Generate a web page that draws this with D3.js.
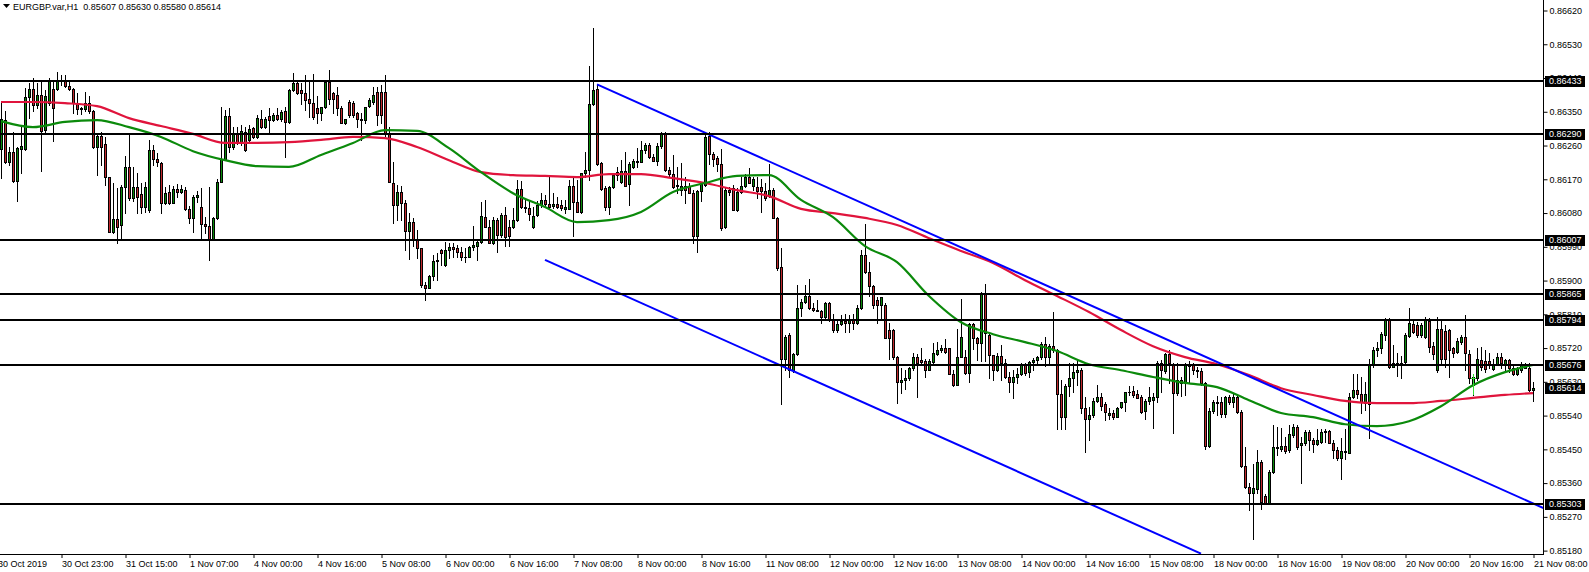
<!DOCTYPE html>
<html><head><meta charset="utf-8">
<script src="https://cdn.jsdelivr.net/npm/d3@7"></script>
<style>
html,body{margin:0;padding:0;background:#fff;overflow:hidden;}
svg{display:block;font-family:"Liberation Sans",Arial,sans-serif;}
</style></head><body>
<svg id="chart" width="1589" height="572"></svg>
<script>
const symbolTitle = "EURGBP.var,H1";
const headerValues = ["0.85607", "0.85630", "0.85580", "0.85614"];

// [open, high, low, close], one per H1 bar, oldest first
const bars = [
[0.86252,0.86373,0.86173,0.86330],[0.86328,0.86351,0.86213,0.86215],[0.86215,0.86257,0.86208,0.86244],[0.86244,0.86297,0.86164,0.86166],
[0.86166,0.86257,0.86113,0.86253],[0.86252,0.86311,0.86188,0.86258],[0.86252,0.86413,0.86248,0.86389],[0.86389,0.86426,0.86333,0.86410],
[0.86410,0.86439,0.86351,0.86368],[0.86368,0.86426,0.86360,0.86395],[0.86395,0.86431,0.86191,0.86300],[0.86302,0.86408,0.86297,0.86391],
[0.86373,0.86441,0.86368,0.86432],[0.86410,0.86435,0.86273,0.86359],[0.86410,0.86455,0.86408,0.86431],[0.86431,0.86448,0.86422,0.86435],
[0.86432,0.86448,0.86417,0.86419],[0.86419,0.86435,0.86408,0.86410],[0.86410,0.86413,0.86346,0.86373],[0.86373,0.86399,0.86344,0.86357],
[0.86357,0.86364,0.86344,0.86359],[0.86357,0.86404,0.86353,0.86373],[0.86373,0.86391,0.86346,0.86351],[0.86351,0.86355,0.86253,0.86255],
[0.86255,0.86288,0.86182,0.86286],[0.86286,0.86297,0.86208,0.86257],[0.86263,0.86284,0.86155,0.86175],[0.86175,0.86177,0.86030,0.86030],
[0.86030,0.86159,0.86028,0.86063],[0.86063,0.86146,0.86001,0.86044],[0.86047,0.86155,0.86010,0.86150],[0.86149,0.86232,0.86079,0.86202],
[0.86202,0.86288,0.86115,0.86119],[0.86119,0.86204,0.86111,0.86150],[0.86150,0.86186,0.86079,0.86124],[0.86131,0.86159,0.86081,0.86095],
[0.86097,0.86164,0.86084,0.86150],[0.86087,0.86275,0.86084,0.86248],[0.86248,0.86262,0.86208,0.86223],[0.86223,0.86239,0.86206,0.86215],
[0.86213,0.86217,0.86081,0.86108],[0.86106,0.86150,0.86104,0.86133],[0.86135,0.86155,0.86104,0.86108],[0.86108,0.86152,0.86106,0.86143],
[0.86143,0.86158,0.86124,0.86135],[0.86135,0.86155,0.86133,0.86143],[0.86142,0.86150,0.86088,0.86090],[0.86090,0.86099,0.86053,0.86068],
[0.86066,0.86128,0.86030,0.86123],[0.86123,0.86140,0.86110,0.86128],[0.86097,0.86148,0.86012,0.86052],[0.86052,0.86070,0.86026,0.86046],
[0.86046,0.86150,0.85955,0.86010],[0.86010,0.86070,0.86008,0.86066],[0.86066,0.86172,0.86063,0.86164],[0.86164,0.86364,0.86164,0.86223],
[0.86223,0.86355,0.86221,0.86339],[0.86339,0.86359,0.86244,0.86257],[0.86257,0.86310,0.86250,0.86294],[0.86294,0.86310,0.86264,0.86270],
[0.86266,0.86315,0.86262,0.86300],[0.86297,0.86310,0.86246,0.86248],[0.86275,0.86315,0.86270,0.86303],[0.86306,0.86310,0.86280,0.86282],
[0.86282,0.86341,0.86279,0.86334],[0.86332,0.86355,0.86306,0.86310],[0.86310,0.86337,0.86306,0.86332],[0.86339,0.86359,0.86297,0.86328],
[0.86328,0.86346,0.86326,0.86341],[0.86341,0.86359,0.86328,0.86332],[0.86330,0.86355,0.86326,0.86350],[0.86352,0.86364,0.86230,0.86324],
[0.86324,0.86412,0.86319,0.86408],[0.86408,0.86454,0.86406,0.86426],[0.86426,0.86430,0.86397,0.86399],[0.86408,0.86426,0.86372,0.86399],
[0.86399,0.86448,0.86355,0.86381],[0.86383,0.86430,0.86337,0.86374],[0.86374,0.86452,0.86330,0.86335],[0.86359,0.86392,0.86320,0.86346],
[0.86346,0.86364,0.86328,0.86362],[0.86362,0.86435,0.86359,0.86430],[0.86430,0.86461,0.86372,0.86383],[0.86399,0.86404,0.86346,0.86383],
[0.86395,0.86417,0.86341,0.86359],[0.86359,0.86365,0.86320,0.86321],[0.86321,0.86332,0.86317,0.86330],[0.86377,0.86381,0.86337,0.86341],
[0.86374,0.86379,0.86337,0.86341],[0.86346,0.86350,0.86310,0.86332],[0.86332,0.86346,0.86275,0.86328],[0.86328,0.86364,0.86319,0.86362],
[0.86365,0.86386,0.86362,0.86381],[0.86377,0.86417,0.86372,0.86395],[0.86404,0.86417,0.86315,0.86341],[0.86404,0.86421,0.86319,0.86341],
[0.86402,0.86448,0.86285,0.86292],[0.86292,0.86310,0.86164,0.86164],[0.86159,0.86217,0.86053,0.86102],[0.86102,0.86155,0.86062,0.86137],
[0.86137,0.86151,0.86062,0.86108],[0.86108,0.86115,0.85982,0.86033],[0.86033,0.86079,0.85957,0.86057],[0.86057,0.86066,0.85991,0.86008],
[0.86008,0.86035,0.85959,0.85986],[0.85986,0.85988,0.85884,0.85888],[0.85888,0.85895,0.85848,0.85880],[0.85880,0.85915,0.85879,0.85911],
[0.85911,0.85968,0.85902,0.85953],[0.85953,0.85973,0.85902,0.85955],[0.85982,0.85984,0.85942,0.85973],[0.85942,0.86004,0.85939,0.85982],
[0.85982,0.86000,0.85960,0.85990],[0.85990,0.85999,0.85962,0.85985],[0.85986,0.85995,0.85962,0.85975],[0.85975,0.85990,0.85955,0.85964],
[0.85964,0.85986,0.85950,0.85962],[0.85962,0.85993,0.85962,0.85990],[0.85990,0.86046,0.85982,0.85996],[0.85992,0.86008,0.85955,0.86004],
[0.86004,0.86110,0.86000,0.86071],[0.86069,0.86115,0.86044,0.86044],[0.86044,0.86062,0.86000,0.86001],[0.86001,0.86070,0.85998,0.86062],
[0.86062,0.86066,0.85975,0.86022],[0.86022,0.86079,0.86017,0.86075],[0.86075,0.86097,0.85992,0.86017],[0.86044,0.86062,0.85992,0.86019],
[0.86044,0.86093,0.86040,0.86062],[0.86062,0.86168,0.86058,0.86143],[0.86143,0.86166,0.86093,0.86097],[0.86097,0.86115,0.86084,0.86093],
[0.86093,0.86111,0.86062,0.86077],[0.86042,0.86097,0.86040,0.86072],[0.86075,0.86111,0.86071,0.86102],[0.86102,0.86133,0.86097,0.86115],
[0.86115,0.86128,0.86097,0.86104],[0.86104,0.86177,0.86093,0.86095],[0.86099,0.86133,0.86093,0.86104],[0.86104,0.86124,0.86093,0.86097],
[0.86102,0.86115,0.86088,0.86093],[0.86090,0.86115,0.86079,0.86095],[0.86092,0.86168,0.86090,0.86152],[0.86152,0.86173,0.86019,0.86110],
[0.86110,0.86168,0.86084,0.86084],[0.86084,0.86186,0.86079,0.86186],[0.86186,0.86244,0.86177,0.86195],[0.86195,0.86471,0.86168,0.86370],
[0.86370,0.86573,0.86368,0.86408],[0.86410,0.86422,0.86208,0.86211],[0.86213,0.86217,0.86141,0.86143],[0.86146,0.86151,0.86088,0.86095],
[0.86095,0.86152,0.86077,0.86150],[0.86150,0.86182,0.86146,0.86182],[0.86182,0.86204,0.86168,0.86190],[0.86164,0.86222,0.86160,0.86191],
[0.86191,0.86242,0.86151,0.86151],[0.86158,0.86217,0.86102,0.86211],[0.86204,0.86224,0.86200,0.86220],[0.86220,0.86253,0.86204,0.86217],
[0.86217,0.86271,0.86215,0.86247],[0.86247,0.86266,0.86241,0.86262],[0.86262,0.86266,0.86226,0.86229],[0.86229,0.86238,0.86218,0.86220],
[0.86220,0.86268,0.86208,0.86259],[0.86259,0.86297,0.86253,0.86291],[0.86291,0.86297,0.86191,0.86195],[0.86195,0.86204,0.86177,0.86184],
[0.86184,0.86235,0.86148,0.86150],[0.86155,0.86204,0.86133,0.86151],[0.86142,0.86213,0.86128,0.86151],[0.86151,0.86177,0.86106,0.86142],
[0.86151,0.86159,0.86133,0.86133],[0.86133,0.86142,0.86000,0.86019],[0.86019,0.86142,0.85977,0.86140],[0.86140,0.86164,0.86111,0.86158],
[0.86155,0.86297,0.86151,0.86284],[0.86286,0.86295,0.86211,0.86238],[0.86238,0.86244,0.86206,0.86224],[0.86226,0.86232,0.86191,0.86211],
[0.86211,0.86250,0.86035,0.86040],[0.86044,0.86146,0.86040,0.86142],[0.86142,0.86150,0.86128,0.86135],[0.86146,0.86155,0.86088,0.86088],
[0.86088,0.86146,0.86086,0.86137],[0.86135,0.86177,0.86133,0.86152],[0.86151,0.86184,0.86149,0.86177],[0.86177,0.86199,0.86159,0.86159],
[0.86151,0.86177,0.86142,0.86170],[0.86150,0.86177,0.86119,0.86140],[0.86150,0.86170,0.86082,0.86140],[0.86140,0.86159,0.86115,0.86120],
[0.86128,0.86211,0.86124,0.86142],[0.86142,0.86146,0.86066,0.86066],[0.86066,0.86070,0.85929,0.85933],[0.85937,0.85986,0.85572,0.85692],
[0.85692,0.85754,0.85661,0.85750],[0.85755,0.85759,0.85643,0.85661],[0.85661,0.85706,0.85657,0.85703],[0.85703,0.85888,0.85702,0.85828],
[0.85828,0.85852,0.85805,0.85844],[0.85844,0.85888,0.85839,0.85859],[0.85859,0.85903,0.85823,0.85826],[0.85826,0.85841,0.85819,0.85821],
[0.85821,0.85848,0.85819,0.85820],[0.85820,0.85821,0.85786,0.85803],[0.85803,0.85844,0.85799,0.85841],[0.85841,0.85844,0.85793,0.85796],
[0.85796,0.85812,0.85763,0.85768],[0.85768,0.85795,0.85763,0.85784],[0.85784,0.85808,0.85781,0.85793],[0.85793,0.85812,0.85763,0.85788],
[0.85788,0.85808,0.85763,0.85795],[0.85795,0.85810,0.85772,0.85786],[0.85786,0.85835,0.85784,0.85826],[0.85826,0.85981,0.85823,0.85968],
[0.85968,0.86051,0.85921,0.85923],[0.85923,0.85950,0.85859,0.85885],[0.85885,0.85888,0.85826,0.85835],[0.85848,0.85857,0.85788,0.85835],
[0.85835,0.85857,0.85795,0.85855],[0.85835,0.85839,0.85746,0.85748],[0.85768,0.85786,0.85692,0.85748],[0.85768,0.85772,0.85692,0.85697],
[0.85697,0.85700,0.85574,0.85630],[0.85630,0.85666,0.85599,0.85636],[0.85636,0.85661,0.85610,0.85639],[0.85639,0.85670,0.85635,0.85668],
[0.85668,0.85706,0.85661,0.85695],[0.85695,0.85704,0.85590,0.85681],[0.85688,0.85719,0.85679,0.85683],[0.85686,0.85690,0.85643,0.85661],
[0.85661,0.85692,0.85661,0.85686],[0.85683,0.85734,0.85679,0.85707],[0.85704,0.85737,0.85701,0.85715],[0.85715,0.85728,0.85710,0.85719],
[0.85719,0.85743,0.85706,0.85710],[0.85719,0.85719,0.85652,0.85652],[0.85652,0.85661,0.85619,0.85621],[0.85621,0.85770,0.85621,0.85697],
[0.85697,0.85852,0.85695,0.85750],[0.85697,0.85715,0.85652,0.85654],[0.85654,0.85786,0.85630,0.85784],[0.85784,0.85788,0.85717,0.85746],
[0.85746,0.85750,0.85688,0.85734],[0.85734,0.85870,0.85686,0.85867],[0.85867,0.85891,0.85686,0.85761],[0.85755,0.85759,0.85639,0.85701],
[0.85701,0.85701,0.85636,0.85661],[0.85661,0.85706,0.85659,0.85699],[0.85699,0.85728,0.85636,0.85679],[0.85681,0.85692,0.85639,0.85642],
[0.85642,0.85657,0.85603,0.85630],[0.85630,0.85661,0.85586,0.85644],[0.85644,0.85666,0.85626,0.85651],[0.85651,0.85679,0.85648,0.85677],
[0.85677,0.85681,0.85648,0.85654],[0.85657,0.85686,0.85644,0.85683],[0.85683,0.85694,0.85661,0.85688],[0.85688,0.85699,0.85681,0.85695],
[0.85695,0.85737,0.85692,0.85731],[0.85731,0.85750,0.85672,0.85697],[0.85697,0.85730,0.85679,0.85725],[0.85725,0.85817,0.85710,0.85715],
[0.85715,0.85717,0.85503,0.85597],[0.85597,0.85636,0.85503,0.85537],[0.85537,0.85625,0.85503,0.85619],[0.85619,0.85681,0.85592,0.85639],
[0.85639,0.85679,0.85603,0.85655],[0.85655,0.85686,0.85621,0.85661],[0.85661,0.85666,0.85546,0.85559],[0.85559,0.85590,0.85443,0.85530],
[0.85530,0.85563,0.85475,0.85541],[0.85541,0.85588,0.85537,0.85579],[0.85579,0.85621,0.85577,0.85590],[0.85590,0.85599,0.85555,0.85565],
[0.85570,0.85576,0.85528,0.85550],[0.85541,0.85561,0.85532,0.85547],[0.85547,0.85555,0.85530,0.85537],[0.85537,0.85562,0.85535,0.85559],
[0.85562,0.85577,0.85560,0.85575],[0.85575,0.85604,0.85553,0.85602],[0.85602,0.85618,0.85594,0.85603],[0.85606,0.85618,0.85590,0.85595],
[0.85597,0.85608,0.85586,0.85588],[0.85590,0.85594,0.85547,0.85550],[0.85553,0.85583,0.85532,0.85579],[0.85579,0.85615,0.85572,0.85590],
[0.85581,0.85601,0.85506,0.85590],[0.85590,0.85686,0.85577,0.85679],[0.85679,0.85688,0.85603,0.85661],[0.85659,0.85706,0.85654,0.85704],
[0.85704,0.85715,0.85626,0.85679],[0.85675,0.85681,0.85494,0.85601],[0.85601,0.85681,0.85595,0.85636],[0.85636,0.85644,0.85592,0.85626],
[0.85626,0.85679,0.85595,0.85675],[0.85671,0.85685,0.85626,0.85675],[0.85675,0.85679,0.85652,0.85661],[0.85661,0.85670,0.85644,0.85660],
[0.85660,0.85666,0.85621,0.85626],[0.85626,0.85630,0.85452,0.85459],[0.85459,0.85560,0.85455,0.85552],[0.85553,0.85581,0.85546,0.85577],
[0.85577,0.85591,0.85542,0.85574],[0.85577,0.85589,0.85537,0.85544],[0.85544,0.85592,0.85537,0.85590],[0.85590,0.85595,0.85572,0.85577],
[0.85577,0.85599,0.85564,0.85590],[0.85590,0.85595,0.85546,0.85550],[0.85550,0.85555,0.85403,0.85405],[0.85405,0.85457,0.85346,0.85350],
[0.85350,0.85359,0.85288,0.85334],[0.85334,0.85412,0.85212,0.85346],[0.85343,0.85448,0.85334,0.85417],[0.85417,0.85421,0.85290,0.85310],
[0.85325,0.85332,0.85305,0.85307],[0.85307,0.85395,0.85305,0.85390],[0.85390,0.85515,0.85386,0.85457],[0.85457,0.85510,0.85435,0.85453],
[0.85452,0.85506,0.85445,0.85459],[0.85459,0.85483,0.85439,0.85446],[0.85448,0.85515,0.85443,0.85492],[0.85488,0.85517,0.85483,0.85510],
[0.85510,0.85515,0.85452,0.85455],[0.85462,0.85483,0.85359,0.85468],[0.85466,0.85501,0.85462,0.85497],[0.85497,0.85501,0.85448,0.85475],
[0.85475,0.85479,0.85443,0.85464],[0.85464,0.85503,0.85461,0.85475],[0.85470,0.85503,0.85466,0.85497],[0.85497,0.85503,0.85470,0.85500],
[0.85500,0.85501,0.85466,0.85468],[0.85468,0.85475,0.85426,0.85448],[0.85448,0.85457,0.85421,0.85428],[0.85428,0.85479,0.85372,0.85445],
[0.85445,0.85503,0.85423,0.85442],[0.85441,0.85599,0.85439,0.85590],[0.85590,0.85652,0.85586,0.85608],[0.85608,0.85652,0.85586,0.85597],
[0.85597,0.85644,0.85546,0.85577],[0.85574,0.85630,0.85555,0.85597],[0.85572,0.85690,0.85479,0.85675],[0.85675,0.85724,0.85670,0.85716],
[0.85716,0.85735,0.85700,0.85720],[0.85720,0.85764,0.85706,0.85757],[0.85755,0.85799,0.85741,0.85796],[0.85796,0.85799,0.85668,0.85670],
[0.85670,0.85728,0.85670,0.85679],[0.85675,0.85706,0.85645,0.85681],[0.85681,0.85700,0.85640,0.85675],[0.85684,0.85759,0.85679,0.85755],
[0.85752,0.85828,0.85750,0.85788],[0.85784,0.85795,0.85759,0.85764],[0.85781,0.85790,0.85750,0.85755],[0.85755,0.85786,0.85750,0.85781],
[0.85750,0.85802,0.85746,0.85795],[0.85793,0.85799,0.85710,0.85722],[0.85725,0.85737,0.85692,0.85704],[0.85661,0.85804,0.85657,0.85772],
[0.85772,0.85795,0.85679,0.85692],[0.85766,0.85781,0.85670,0.85690],[0.85768,0.85772,0.85644,0.85715],[0.85719,0.85724,0.85697,0.85708],
[0.85710,0.85746,0.85706,0.85740],[0.85737,0.85755,0.85732,0.85750],[0.85750,0.85808,0.85661,0.85706],[0.85704,0.85715,0.85626,0.85639],
[0.85621,0.85652,0.85595,0.85644],[0.85639,0.85719,0.85635,0.85690],[0.85688,0.85722,0.85661,0.85670],[0.85686,0.85715,0.85657,0.85663],
[0.85686,0.85706,0.85666,0.85675],[0.85663,0.85692,0.85661,0.85677],[0.85677,0.85708,0.85675,0.85695],[0.85695,0.85706,0.85666,0.85679],
[0.85675,0.85692,0.85661,0.85688],[0.85688,0.85690,0.85657,0.85666],[0.85668,0.85675,0.85648,0.85652],[0.85651,0.85670,0.85648,0.85666],
[0.85661,0.85684,0.85657,0.85675],[0.85668,0.85679,0.85666,0.85672],[0.85668,0.85681,0.85606,0.85608],[0.85607,0.85630,0.85580,0.85614]
];

// time axis: one label every 16 bars (bar index -1 is the first, clipped label)
const tickBars = [-1,15,31,47,63,79,95,111,127,143,159,175,191,207,223,239,255,271,287,303,319,335,351,367,383];
const tickLabels = ["30 Oct 2019","30 Oct 23:00","31 Oct 15:00","1 Nov 07:00","4 Nov 00:00","4 Nov 16:00","5 Nov 08:00",
  "6 Nov 00:00","6 Nov 16:00","7 Nov 08:00","8 Nov 00:00","8 Nov 16:00","11 Nov 08:00","12 Nov 00:00","12 Nov 16:00",
  "13 Nov 08:00","14 Nov 00:00","14 Nov 16:00","15 Nov 08:00","18 Nov 00:00","18 Nov 16:00","19 Nov 08:00",
  "20 Nov 00:00","20 Nov 16:00","21 Nov 08:00"];

const priceTicks = [0.86620,0.86530,0.86440,0.86350,0.86260,0.86170,0.86080,0.85990,0.85900,0.85810,
  0.85720,0.85630,0.85540,0.85450,0.85360,0.85270,0.85180];

const levels = [0.86433,0.86290,0.86007,0.85865,0.85794,0.85676,0.85303];
const lastPrice = 0.85614;

// moving averages sampled along the bars
const maBars = [0,8,16,24,32,40,48,56,64,72,80,88,96,104,112,120,128,136,144,152,160,168,176,184,192,200,
  208,216,224,232,240,248,256,264,272,280,288,296,304,312,320,328,336,344,352,360,368,376,383];
const maRed = [0.86376,0.86376,0.86373,0.86365,0.86333,0.86312,0.86291,0.86267,0.86267,0.86269,0.86275,0.86283,
  0.86280,0.86256,0.86221,0.86189,0.86181,0.86179,0.86176,0.86184,0.86184,0.86173,0.86160,0.86141,0.86125,0.86091,
  0.86080,0.86067,0.86048,0.86013,0.85979,0.85947,0.85901,0.85859,0.85816,0.85768,0.85725,0.85696,0.85677,0.85648,
  0.85613,0.85595,0.85579,0.85573,0.85573,0.85579,0.85587,0.85595,0.85600];
const maGreen = [0.86325,0.86309,0.86323,0.86328,0.86309,0.86283,0.86245,0.86221,0.86205,0.86203,0.86235,0.86267,
  0.86301,0.86299,0.86253,0.86189,0.86133,0.86096,0.86056,0.86061,0.86083,0.86136,0.86160,0.86179,0.86181,0.86115,
  0.86069,0.85992,0.85949,0.85859,0.85789,0.85757,0.85736,0.85712,0.85677,0.85661,0.85643,0.85627,0.85616,0.85581,
  0.85547,0.85536,0.85517,0.85512,0.85525,0.85565,0.85621,0.85656,0.85675];

// channel lines: [bar, price] anchors
const channelUpper = [[149,0.86423],[383,0.85306]];
const channelLower = [[136,0.85955],[300,0.85172]];

// small lime marker
const markerBar = 368;
const markerPrices = [0.85595,0.85652,0.85639];

// ---------- drawing ----------
const W = 1589, H = 572, plotRight = 1543, plotBottom = 554;
const svg = d3.select("#chart");
const x = d3.scaleLinear().domain([0, 383]).range([1, 1533]);
const y = d3.scaleLinear().domain([0.85171, 0.86648]).range([plotBottom, 0]);
const R = v => Math.round(v);

svg.append("rect").attr("width", W).attr("height", H).attr("fill", "#fff");
svg.append("defs").append("clipPath").attr("id", "plotclip")
  .append("rect").attr("x", 0).attr("y", 0).attr("width", plotRight).attr("height", plotBottom);

const plot = svg.append("g").attr("clip-path", "url(#plotclip)");

// candle geometry computed from the data through the scales
const candles = bars.map((d, i) => {
  const o = d[0], h = d[1], l = d[2], c = d[3];
  const cx = R(x(i));
  const wTop = R(y(Math.max(h, o, c))), wBot = R(y(Math.min(l, o, c)));
  const bTop = R(y(Math.max(o, c))), bBot = R(y(Math.min(o, c)));
  return { cx, wTop, wBot, bTop, bBot, up: c >= o };
});

const cg = plot.append("g").attr("shape-rendering", "crispEdges")
  .selectAll("g").data(candles).join("g");
cg.append("rect")
  .attr("x", d => d.cx).attr("width", 1)
  .attr("y", d => d.wTop).attr("height", d => Math.max(1, d.wBot - d.wTop + 1))
  .attr("fill", "#000");
cg.append("rect")
  .attr("x", d => d.cx - 1).attr("width", 3)
  .attr("y", d => d.bTop).attr("height", d => Math.max(1, d.bBot - d.bTop + 1))
  .attr("fill", "#000");
cg.filter(d => d.bBot - d.bTop >= 2).append("rect")
  .attr("x", d => d.cx).attr("width", 1)
  .attr("y", d => d.bTop + 1).attr("height", d => d.bBot - d.bTop - 1)
  .attr("fill", d => d.up ? "#0a8a0a" : "#c0282d");

// moving averages
const maLine = d3.line().x(d => x(d[0])).y(d => y(d[1])).curve(d3.curveMonotoneX);
plot.append("path").datum(maBars.map((b, i) => [b, maRed[i]]))
  .attr("d", maLine).attr("fill", "none").attr("stroke", "#e0143c").attr("stroke-width", 2.2);
plot.append("path").datum(maBars.map((b, i) => [b, maGreen[i]]))
  .attr("d", maLine).attr("fill", "none").attr("stroke", "#0b8a0b").attr("stroke-width", 2.2);

// channel (upper is a ray to the axis)
const slopeU = (channelUpper[1][1] - channelUpper[0][1]) / (channelUpper[1][0] - channelUpper[0][0]);
const endBar = x.invert(plotRight + 2);
const upperPts = [channelUpper[0], [endBar, channelUpper[0][1] + slopeU * (endBar - channelUpper[0][0])]];
const segLine = d3.line().x(d => x(d[0])).y(d => y(d[1]));
plot.append("path").datum(upperPts).attr("d", segLine)
  .attr("stroke", "#0000ff").attr("stroke-width", 2).attr("fill", "none");
plot.append("path").datum(channelLower).attr("d", segLine)
  .attr("stroke", "#0000ff").attr("stroke-width", 2).attr("fill", "none");

// lime marker
const mx = R(x(markerBar));
plot.append("rect").attr("x", mx).attr("width", 1)
  .attr("y", R(y(markerPrices[1]))).attr("height", R(y(markerPrices[0])) - R(y(markerPrices[1])))
  .attr("fill", "#33dd33");
plot.append("rect").attr("x", mx - 2).attr("width", 5)
  .attr("y", R(y(markerPrices[2]))).attr("height", 1).attr("fill", "#33dd33");

// horizontal levels
plot.append("g").attr("shape-rendering", "crispEdges")
  .selectAll("rect").data(levels).join("rect")
  .attr("x", 0).attr("width", plotRight)
  .attr("y", d => R(y(d)) - 1).attr("height", 2).attr("fill", "#000");

// right price axis
const yAxis = d3.axisRight(y).tickValues(priceTicks).tickFormat(d3.format(".5f"))
  .tickSize(4).tickSizeOuter(0).tickPadding(2);
const ya = svg.append("g").attr("transform", `translate(${plotRight + 0.5},0)`).call(yAxis);
ya.select(".domain").remove();
ya.selectAll("text").attr("font-size", 9).attr("fill", "#000").attr("font-family", '"Liberation Sans",Arial,sans-serif');
ya.selectAll("line").attr("stroke", "#000");
svg.append("rect").attr("x", plotRight).attr("y", 0).attr("width", 1).attr("height", plotBottom + 1).attr("fill", "#000");

// level / last price boxes
const boxData = levels.concat([lastPrice]);
const boxes = svg.append("g").selectAll("g").data(boxData).join("g")
  .attr("transform", d => `translate(${plotRight + 2},${R(y(d))})`);
boxes.append("rect").attr("x", 0).attr("y", -5).attr("width", 40).attr("height", 11).attr("fill", "#000");
boxes.append("text").attr("x", 4).attr("y", 0).attr("dy", "0.35em")
  .attr("font-size", 9).attr("fill", "#fff").text(d => d3.format(".5f")(d));

// bottom time axis
const xAxis = d3.axisBottom(x).tickValues(tickBars).tickFormat((d, i) => tickLabels[i])
  .tickSize(4).tickSizeOuter(0).tickPadding(3);
const xa = svg.append("g").attr("transform", `translate(0.5,${plotBottom})`).call(xAxis);
xa.select(".domain").remove();
xa.selectAll("text").attr("text-anchor", "start").attr("x", 0).attr("font-size", 9).attr("fill", "#000")
  .attr("font-family", '"Liberation Sans",Arial,sans-serif');
xa.selectAll("line").attr("stroke", "#000");
svg.append("rect").attr("x", 0).attr("y", plotBottom).attr("width", plotRight + 1).attr("height", 1).attr("fill", "#000");

// header
svg.append("path").attr("d", "M3,4 L10,4 L6.5,8 Z").attr("fill", "#000");
svg.append("text").attr("x", 13).attr("y", 10).attr("font-size", 9).attr("fill", "#000")
  .attr("xml:space", "preserve")
  .text(symbolTitle + "  " + headerValues.join(" "));
</script>
</body></html>
